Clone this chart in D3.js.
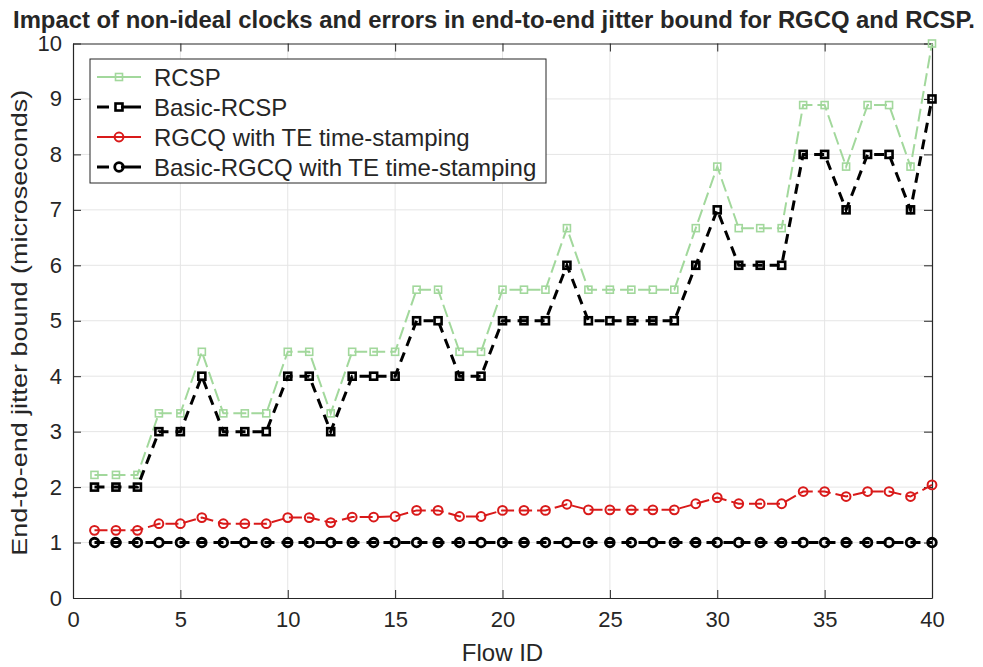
<!DOCTYPE html>
<html lang="en">
<head>
  <meta charset="UTF-8">
  <title>End-to-end jitter bound</title>
  <script src="https://cdnjs.cloudflare.com/ajax/libs/d3/7.8.5/d3.min.js"></script>
  <style>
    body { margin: 0; background: #fff; }
    text { font-family: "Liberation Sans", Arial, sans-serif; fill: #262626; }
    .grid line { stroke: #e5e5e5; stroke-width: 1px; }
    .axis path, .axis line { stroke: #262626; }
  </style>
</head>
<body>
  <div id="chart"></div>
  <script>
    // flow ids 1..40
    const flowIds = [1,2,3,4,5,6,7,8,9,10,11,12,13,14,15,16,17,18,19,20,
                     21,22,23,24,25,26,27,28,29,30,31,32,33,34,35,36,37,38,39,40];

    const rcsp = [2.22,2.22,2.22,3.33,3.33,4.44,3.33,3.33,3.33,4.44,
                  4.44,3.33,4.44,4.44,4.44,5.56,5.56,4.44,4.44,5.56,
                  5.56,5.56,6.67,5.56,5.56,5.56,5.56,5.56,6.67,7.78,
                  6.67,6.67,6.67,8.89,8.89,7.78,8.89,8.89,7.78,10.0];

    const basicRcsp = [2,2,2,3,3,4,3,3,3,4,
                       4,3,4,4,4,5,5,4,4,5,
                       5,5,6,5,5,5,5,5,6,7,
                       6,6,6,8,8,7,8,8,7,9];

    const rgcq = [1.22,1.22,1.22,1.34,1.34,1.45,1.34,1.34,1.34,1.45,
                  1.45,1.36,1.46,1.46,1.47,1.58,1.58,1.47,1.47,1.58,
                  1.58,1.58,1.69,1.59,1.59,1.59,1.59,1.59,1.70,1.81,
                  1.70,1.70,1.70,1.92,1.92,1.83,1.92,1.92,1.83,2.04];

    const basicRgcq = [1,1,1,1,1,1,1,1,1,1,1,1,1,1,1,1,1,1,1,1,
                       1,1,1,1,1,1,1,1,1,1,1,1,1,1,1,1,1,1,1,1];

    const xTicks = [0,5,10,15,20,25,30,35,40];
    const yTicks = [0,1,2,3,4,5,6,7,8,9,10];

    const series = [
      {name: "RCSP", values: rcsp, color: "#a2d89c", width: 2, dash: "13,5", solidKey: true, marker: "square", size: 7, mw: 1.6},
      {name: "Basic-RCSP", values: basicRcsp, color: "#000000", width: 3, dash: "10,7", solidKey: false, marker: "square", size: 7, mw: 2.6},
      {name: "RGCQ with TE time-stamping", values: rgcq, color: "#d91a1a", width: 2, dash: "13,5", solidKey: true, marker: "circle", size: 4.4, mw: 2},
      {name: "Basic-RGCQ with TE time-stamping", values: basicRgcq, color: "#000000", width: 3, dash: "10,7", solidKey: false, marker: "circle", size: 4.3, mw: 2.8}
    ];

    const width = 983, height = 667;
    const margin = {left: 73, right: 51, top: 43.5, bottom: 69};
    const innerW = width - margin.left - margin.right;
    const innerH = height - margin.top - margin.bottom;

    const svg = d3.select("#chart").append("svg")
      .attr("width", width)
      .attr("height", height);

    const x = d3.scaleLinear().domain([0, 40]).range([0, innerW]);
    const y = d3.scaleLinear().domain([0, 10]).range([innerH, 0]);

    const g = svg.append("g")
      .attr("transform", `translate(${margin.left},${margin.top})`);

    // grid
    g.append("g").attr("class", "grid")
      .selectAll("line").data(xTicks.slice(1, -1)).join("line")
      .attr("x1", d => x(d)).attr("x2", d => x(d))
      .attr("y1", 0).attr("y2", innerH);
    g.append("g").attr("class", "grid")
      .selectAll("line").data(yTicks.slice(1, -1)).join("line")
      .attr("x1", 0).attr("x2", innerW)
      .attr("y1", d => y(d)).attr("y2", d => y(d));

    // axes, ticks pointing inward, box on
    const tickLen = 8;
    g.append("g").attr("class", "axis")
      .attr("transform", `translate(0,${innerH})`)
      .call(d3.axisBottom(x).tickValues(xTicks).tickSizeInner(-tickLen).tickSizeOuter(0).tickPadding(13));
    g.append("g").attr("class", "axis")
      .call(d3.axisLeft(y).tickValues(yTicks).tickSizeInner(-tickLen).tickSizeOuter(0).tickPadding(11));
    g.append("g").attr("class", "axis")
      .call(d3.axisTop(x).tickValues(xTicks).tickSizeInner(-tickLen).tickSizeOuter(0).tickFormat(""));
    g.append("g").attr("class", "axis")
      .attr("transform", `translate(${innerW},0)`)
      .call(d3.axisRight(y).tickValues(yTicks).tickSizeInner(-tickLen).tickSizeOuter(0).tickFormat(""));

    g.selectAll(".axis text")
      .style("font-family", "'Liberation Sans', Arial, sans-serif")
      .style("font-size", "22px")
      .attr("fill", "#262626");
    g.selectAll(".axis path").attr("stroke-width", 1.2);

    // lines
    const line = d3.line()
      .x((d, i) => x(flowIds[i]))
      .y(d => y(d));

    function drawMarker(sel, s) {
      if (s.marker === "square") {
        sel.append("rect")
          .attr("x", -s.size / 2).attr("y", -s.size / 2)
          .attr("width", s.size).attr("height", s.size)
          .attr("fill", "none").attr("stroke", s.color).attr("stroke-width", s.mw);
      } else {
        sel.append("circle")
          .attr("r", s.size)
          .attr("fill", "none").attr("stroke", s.color).attr("stroke-width", s.mw);
      }
    }

    series.forEach(s => {
      g.append("path")
        .datum(s.values)
        .attr("fill", "none")
        .attr("stroke", s.color)
        .attr("stroke-width", s.width)
        .attr("stroke-dasharray", s.dash)
        .attr("d", line);
      g.append("g").selectAll("g")
        .data(s.values).join("g")
        .attr("transform", (d, i) => `translate(${x(flowIds[i])},${y(d)})`)
        .each(function () { drawMarker(d3.select(this), s); });
    });

    // legend
    const legend = svg.append("g").attr("transform", "translate(90,59)");
    legend.append("rect")
      .attr("width", 456).attr("height", 124)
      .attr("fill", "#fff").attr("stroke", "#262626").attr("stroke-width", 1);
    series.forEach((s, i) => {
      const ly = 18 + i * 30;
      const row = legend.append("g").attr("transform", `translate(0,${ly})`);
      if (s.solidKey) {
        row.append("line").attr("x1", 7).attr("x2", 51).attr("y1", 0).attr("y2", 0)
          .attr("stroke", s.color).attr("stroke-width", s.width);
      } else {
        row.append("line").attr("x1", 7).attr("x2", 19).attr("y1", 0).attr("y2", 0)
          .attr("stroke", s.color).attr("stroke-width", s.width);
        row.append("line").attr("x1", 31).attr("x2", 51).attr("y1", 0).attr("y2", 0)
          .attr("stroke", s.color).attr("stroke-width", s.width);
      }
      const m = row.append("g").attr("transform", "translate(29,0)");
      drawMarker(m, s);
      row.append("text")
        .attr("x", 64).attr("y", 8.5)
        .style("font-size", "24px")
        .attr("fill", "#000")
        .text(s.name);
    });

    // title and axis labels
    svg.append("text")
      .attr("x", 494).attr("y", 28)
      .attr("text-anchor", "middle")
      .attr("textLength", 962)
      .attr("lengthAdjust", "spacingAndGlyphs")
      .style("font-size", "23px")
      .style("font-weight", "bold")
      .attr("fill", "#000")
      .text("Impact of non-ideal clocks and errors in end-to-end jitter bound for RGCQ and RCSP.");

    svg.append("text")
      .attr("x", margin.left + innerW / 2).attr("y", 661)
      .attr("text-anchor", "middle")
      .style("font-size", "24px")
      .text("Flow ID");

    svg.append("text")
      .attr("transform", `translate(27,${margin.top + innerH / 2 + 2}) rotate(-90)`)
      .attr("text-anchor", "middle")
      .attr("textLength", 466)
      .attr("lengthAdjust", "spacingAndGlyphs")
      .style("font-size", "22px")
      .text("End-to-end jitter bound (microseconds)");
  </script>
</body>
</html>
